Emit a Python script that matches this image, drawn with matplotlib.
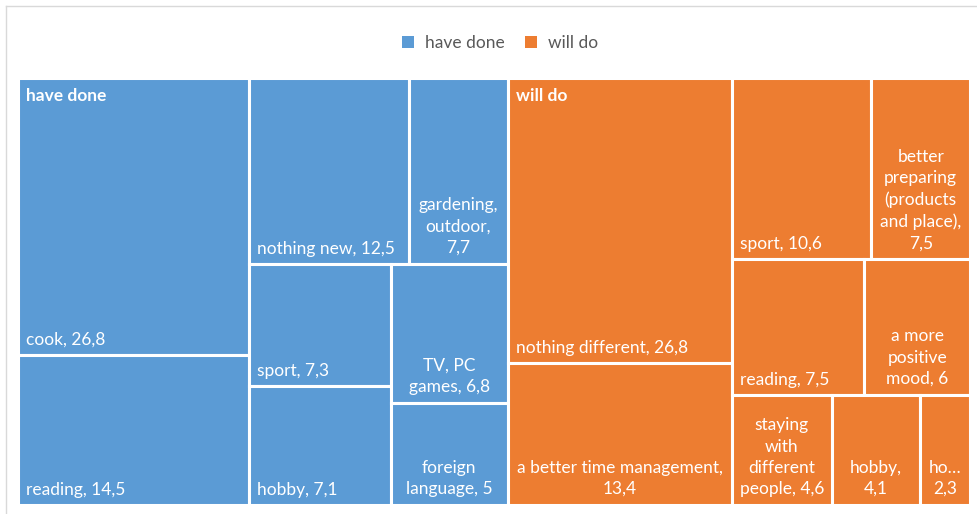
import matplotlib
matplotlib.use("Agg")
from matplotlib import pyplot as plt
from matplotlib.patches import Rectangle, Patch
from matplotlib.lines import Line2D

# 数据
groups = ["have done", "will do"]
group_colors = ["#5B9BD5", "#ED7D31"]

have_labels = ["cook", "reading", "nothing new", "gardening, outdoor", "sport",
               "hobby", "TV, PC games", "foreign language"]
have_values = [26.8, 14.5, 12.5, 7.7, 7.3, 7.1, 6.8, 5]

will_labels = ["nothing different", "a better time management", "sport",
               "better preparing (products and place)", "reading",
               "a more positive mood", "staying with different people",
               "hobby", "housework"]
will_values = [26.8, 13.4, 10.6, 7.5, 7.5, 6, 4.6, 4.1, 2.3]

plt.rcParams['font.family'] = ['Lato', 'DejaVu Sans']
FS = 12.5


def worst(row, side):
    s = sum(row)
    return max(side * side * max(row) / (s * s), s * s / (side * side * min(row)))


def squarify(values, x, y, w, h):
    # squarified treemap, y grows downwards
    total = sum(values)
    areas = [v * w * h / total for v in values]
    rects = []
    i = 0
    while i < len(areas):
        side = min(w, h)
        row = [areas[i]]
        i += 1
        while i < len(areas) and worst(row + [areas[i]], side) <= worst(row, side):
            row.append(areas[i])
            i += 1
        s = sum(row)
        if w >= h:
            cw = s / h
            yy = y
            for a in row:
                rects.append((x, yy, cw, a / cw))
                yy += a / cw
            x += cw
            w -= cw
        else:
            rh = s / w
            xx = x
            for a in row:
                rects.append((xx, y, a / rh, rh))
                xx += a / rh
            y += rh
            h -= rh
    return rects


def fmt(v):
    if float(v).is_integer():
        return str(int(v))
    return ("%.1f" % v).replace(".", ",")


W, H = 978, 514
fig = plt.figure(figsize=(W / 100, H / 100), dpi=100)
renderer = fig.canvas.get_renderer()

# 绘图区 (像素)
px0, py0, px1, py1 = 18, 78, 970, 505
pw, ph = px1 - px0, py1 - py0
ax = fig.add_axes([px0 / W, 1 - py1 / H, pw / W, ph / H])
ax.set_xlim(0, pw)
ax.set_ylim(ph, 0)
ax.axis("off")


def tw(s, **kw):
    t = fig.text(0, 0, s, fontsize=FS, **kw)
    bb = t.get_window_extent(renderer)
    t.remove()
    return bb.width


def wrap(text, avail):
    words = text.split(" ")
    lines = []
    cur = ""
    for wd in words:
        if tw(wd) > avail:
            while len(wd) > 1 and tw(wd + "…") > avail:
                wd = wd[:-1]
            wd = wd + "…"
        cand = wd if cur == "" else cur + " " + wd
        if tw(cand) <= avail or cur == "":
            cur = cand
        else:
            lines.append(cur)
            cur = wd
    lines.append(cur)
    return lines


all_labels = [have_labels, will_labels]
all_values = [have_values, will_values]
group_rects = squarify([sum(v) for v in all_values], 0, 0, pw, ph)

pad = 8
for g, (gx, gy, gw, gh) in enumerate(group_rects):
    rects = squarify(all_values[g], gx, gy, gw, gh)
    for (x, y, w, h), lab, val in zip(rects, all_labels[g], all_values[g]):
        ax.add_patch(Rectangle((x, y), w, h, facecolor=group_colors[g],
                               edgecolor="white", linewidth=2.2))
        txt = lab + ", " + fmt(val)
        if tw(txt) <= w - 20:
            ax.text(x + pad, y + h - 7, txt, color="white", fontsize=FS,
                    ha="left", va="bottom")
        else:
            lines = wrap(txt, w - 10)
            ax.text(x + w / 2, y + h - 8, "\n".join(lines), color="white",
                    fontsize=FS, ha="center", va="bottom",
                    multialignment="center", linespacing=1.4)
    ax.text(gx + pad, gy + 10, groups[g], color="white", fontsize=FS,
            fontweight="bold", ha="left", va="top")

# 图例
handles = [Patch(facecolor=c, edgecolor="none") for c in group_colors]
fig.legend(handles, groups, loc="center", bbox_to_anchor=(500 / W, 1 - 43 / H),
           ncol=2, frameon=False, fontsize=FS, labelcolor="#595959",
           handlelength=0.7, handleheight=0.7, handletextpad=0.6,
           columnspacing=1.2)

# 外框
fig.add_artist(Line2D([6 / W, 1], [1 - 6 / H, 1 - 6 / H], color="#D9D9D9", lw=1))
fig.add_artist(Line2D([6 / W, 6 / W], [0, 1 - 6 / H], color="#D9D9D9", lw=1))

fig.savefig("out.png", dpi=100)
